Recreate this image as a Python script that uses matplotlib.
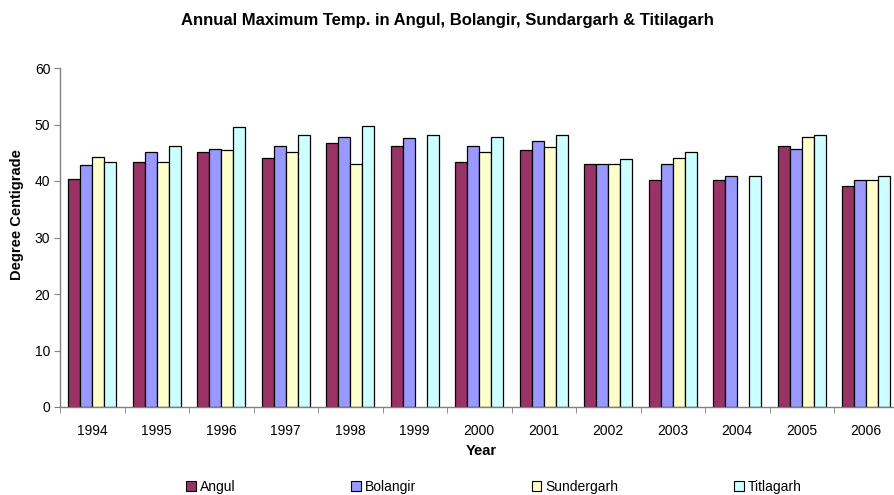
import numpy as np
import matplotlib
matplotlib.use("Agg")
import matplotlib.pyplot as plt
from matplotlib.patches import Patch

plt.rcParams['font.family'] = ['Liberation Sans', 'DejaVu Sans']

years = ['1994', '1995', '1996', '1997', '1998', '1999', '2000',
         '2001', '2002', '2003', '2004', '2005', '2006']
angul = [40.3, 43.4, 45.1, 44.0, 46.8, 46.2, 43.4, 45.5, 43.0, 40.1, 40.1, 46.2, 39.1]
bolangir = [42.8, 45.1, 45.7, 46.2, 47.7, 47.6, 46.2, 47.0, 43.0, 43.0, 40.9, 45.7, 40.1]
sundergarh = [44.2, 43.4, 45.5, 45.1, 43.0, np.nan, 45.1, 46.1, 43.0, 44.0, np.nan, 47.7, 40.1]
titlagarh = [43.4, 46.2, 49.6, 48.1, 49.8, 48.1, 47.7, 48.1, 43.9, 45.1, 40.9, 48.1, 40.9]

series = [('Angul', angul, '#993366'),
          ('Bolangir', bolangir, '#9999FF'),
          ('Sundergarh', sundergarh, '#FFFFCC'),
          ('Titlagarh', titlagarh, '#CCFFFF')]

W, H = 894, 495
fig = plt.figure(figsize=(W / 100, H / 100), dpi=100)
left, right, bottom, top = 60, 898.5, 407, 68
ax = fig.add_axes([left / W, 1 - bottom / H, (right - left) / W, (bottom - top) / H])

x = np.arange(len(years))
bw = 0.1875
for i, (name, vals, col) in enumerate(series):
    ax.bar(x + (i - 1.5) * bw, vals, bw, color=col, edgecolor='black', linewidth=0.9, label=name)

ax.set_xlim(-0.5, len(years) - 0.5)
ax.set_ylim(0, 60)
ax.set_yticks(range(0, 61, 10))
ax.set_xticks(x)
ax.set_xticklabels(years)
ax.set_xticks(np.arange(-0.5, len(years), 1), minor=True)
ax.tick_params(axis='x', which='major', length=0, pad=12, labelsize=10)
ax.tick_params(axis='x', which='minor', length=4, direction='out', color='#808080')
ax.tick_params(axis='y', length=4, direction='out', color='#808080', labelsize=10, pad=3)

for s in ['top', 'right']:
    ax.spines[s].set_visible(False)
for s in ['left', 'bottom']:
    ax.spines[s].set_color('#808080')
    ax.spines[s].set_linewidth(1.0)

fig.text(447 / W, 1 - 20 / H, 'Annual Maximum Temp. in Angul, Bolangir, Sundargarh & Titilagarh',
         ha='center', va='center', fontsize=12, fontweight='bold')
fig.text(481 / W, 1 - 451 / H, 'Year', ha='center', va='center', fontsize=10.5, fontweight='bold')
fig.text(17 / W, 1 - 215 / H, 'Degree Centigrade', ha='center', va='center', rotation=90,
         fontsize=10.5, fontweight='bold')

handles = [Patch(facecolor=c, edgecolor='black', linewidth=0.8, label=n) for n, _, c in series]
fig.legend(handles=handles, loc='center', bbox_to_anchor=(494 / W, 1 - 487 / H), ncol=4,
           frameon=False, fontsize=10, handlelength=0.7, handleheight=0.7, handletextpad=0.3,
           columnspacing=8.3)

fig.savefig('out.png', dpi=100)
